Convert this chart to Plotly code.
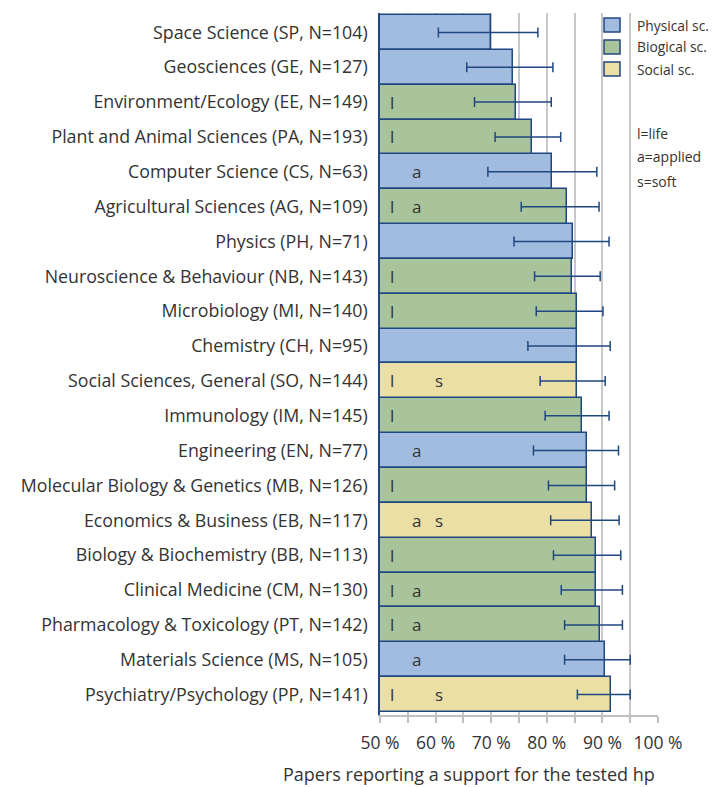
import plotly.graph_objects as go

categories = [
    "Space Science (SP, N=104)", "Geosciences (GE, N=127)", "Environment/Ecology (EE, N=149)",
    "Plant and Animal Sciences (PA, N=193)", "Computer Science (CS, N=63)",
    "Agricultural Sciences (AG, N=109)", "Physics (PH, N=71)",
    "Neuroscience & Behaviour (NB, N=143)", "Microbiology (MI, N=140)", "Chemistry (CH, N=95)",
    "Social Sciences, General (SO, N=144)", "Immunology (IM, N=145)", "Engineering (EN, N=77)",
    "Molecular Biology & Genetics (MB, N=126)", "Economics & Business (EB, N=117)",
    "Biology & Biochemistry (BB, N=113)", "Clinical Medicine (CM, N=130)",
    "Pharmacology & Toxicology (PT, N=142)", "Materials Science (MS, N=105)",
    "Psychiatry/Psychology (PP, N=141)",
]
groups = ["P", "P", "B", "B", "P", "B", "P", "B", "B", "P",
          "S", "B", "P", "B", "S", "B", "B", "B", "P", "S"]
values = [70.0, 73.9, 74.4, 77.3, 81.0, 83.6, 84.7, 84.6, 85.4, 85.4,
          85.4, 86.3, 87.2, 87.2, 88.2, 88.9, 88.9, 89.6, 90.5, 91.5]
err_low = [60.5, 65.6, 67.0, 70.7, 69.4, 75.4, 74.1, 77.8, 78.1, 76.6,
           78.8, 79.7, 77.6, 80.3, 80.7, 81.2, 82.6, 83.2, 83.2, 85.5]
err_high = [78.4, 81.1, 80.8, 82.5, 89.0, 89.4, 91.2, 89.6, 90.1, 91.4,
            90.5, 91.2, 92.9, 92.2, 93.0, 93.3, 93.6, 93.6, 95.0, 95.0]
life = [0, 0, 1, 1, 0, 1, 0, 1, 1, 0, 1, 1, 0, 1, 0, 1, 1, 1, 0, 1]
applied = [0, 0, 0, 0, 1, 1, 0, 0, 0, 0, 0, 0, 1, 0, 1, 0, 1, 1, 1, 0]
soft = [0, 0, 0, 0, 0, 0, 0, 0, 0, 0, 1, 0, 0, 0, 1, 0, 0, 0, 0, 1]
group_keys = ["P", "B", "S"]
group_names = {"P": "Physical sc.", "B": "Biogical sc.", "S": "Social sc."}
group_colors = {"P": "#a2bce0", "B": "#a9c49b", "S": "#ebdfa6"}
key_lines = ["l=life", "a=applied", "s=soft"]
tick_values = [50, 55, 60, 65, 70, 75, 80, 85, 90, 95, 100]
tick_labels = ["50 %", "", "60 %", "", "70 %", "", "80 %", "", "90 %", "", "100 %"]

BASE = 50
NAVY = "#1f4780"
TXT = "#333333"
FONT = "Open Sans"

# plot box in pixels (for placing the legend in paper coordinates)
L, R, T, B = 380, 658, 13, 715
W, H = R - L, B - T


def px_x(px):
    return (px - L) / W


def px_y(py):
    return 1 - (py - T) / H


fig = go.Figure()
for g in group_keys:
    idx = [i for i, gg in enumerate(groups) if gg == g]
    fig.add_trace(go.Bar(
        orientation="h",
        y=idx,
        x=[values[i] - BASE for i in idx],
        base=BASE,
        name=group_names[g],
        marker=dict(color=group_colors[g], line=dict(color=NAVY, width=1.5)),
        error_x=dict(
            type="data", symmetric=False,
            array=[err_high[i] - values[i] for i in idx],
            arrayminus=[values[i] - err_low[i] for i in idx],
            color=NAVY, thickness=1.5, width=5,
        ),
        width=1,
        showlegend=False,
    ))

# class letters inside bars
for i in range(len(categories)):
    for flag, letter, xpos in ((life, "l", 52.1), (applied, "a", 56.5), (soft, "s", 60.7)):
        if flag[i]:
            fig.add_annotation(x=xpos, y=i, text=letter, showarrow=False,
                               font=dict(family=FONT, size=17, color=TXT),
                               xanchor="center", yanchor="middle")

# manual legend
for k, g in enumerate(group_keys):
    cy = 25 + k * 22
    fig.add_shape(type="rect", xref="paper", yref="paper",
                  x0=px_x(604), x1=px_x(620), y0=px_y(cy + 7), y1=px_y(cy - 7),
                  fillcolor=group_colors[g], line=dict(color=NAVY, width=1.5))
    fig.add_annotation(xref="paper", yref="paper", x=px_x(635), y=px_y(cy),
                       text=group_names[g], showarrow=False, xanchor="left", yanchor="middle",
                       font=dict(family=FONT, size=13.8, color=TXT))
for k, line in enumerate(key_lines):
    fig.add_annotation(xref="paper", yref="paper", x=px_x(635), y=px_y(133 + k * 24),
                       text=line, showarrow=False, xanchor="left", yanchor="middle",
                       font=dict(family=FONT, size=14, color=TXT))

fig.add_annotation(xref="paper", yref="paper", x=px_x(469), y=px_y(774),
                   text="Papers reporting a support for the tested hp", showarrow=False,
                   xanchor="center", yanchor="middle",
                   font=dict(family=FONT, size=18, color=TXT))

fig.update_layout(
    width=712, height=787,
    margin=dict(l=L, r=712 - R, t=T, b=787 - B, autoexpand=False),
    plot_bgcolor="white", paper_bgcolor="white",
    barmode="overlay", bargap=0,
    showlegend=False,
    xaxis=dict(range=[50, 100], tickvals=tick_values, ticktext=tick_labels,
               showgrid=True, gridcolor="#c8c8c8", gridwidth=1.5,
               ticks="outside", ticklen=6, tickcolor="#c0c0c0", tickwidth=1.5,
               showline=True, linecolor="#c0c0c0", linewidth=2, ticklabelstandoff=5,
               tickfont=dict(family=FONT, size=17.5, color=TXT), zeroline=False),
    yaxis=dict(range=[19.586, -0.557], tickvals=list(range(len(categories))), ticktext=categories,
               showgrid=False, zeroline=False, showline=True, linecolor=NAVY, linewidth=1.5,
               ticks="", ticklabelstandoff=7,
               tickfont=dict(family=FONT, size=17.8, color=TXT)),
)

fig.write_html(
    "out.html",
    config={"displayModeBar": False},
    post_script="document.body.style.margin='0';document.body.style.overflow='hidden';",
)
